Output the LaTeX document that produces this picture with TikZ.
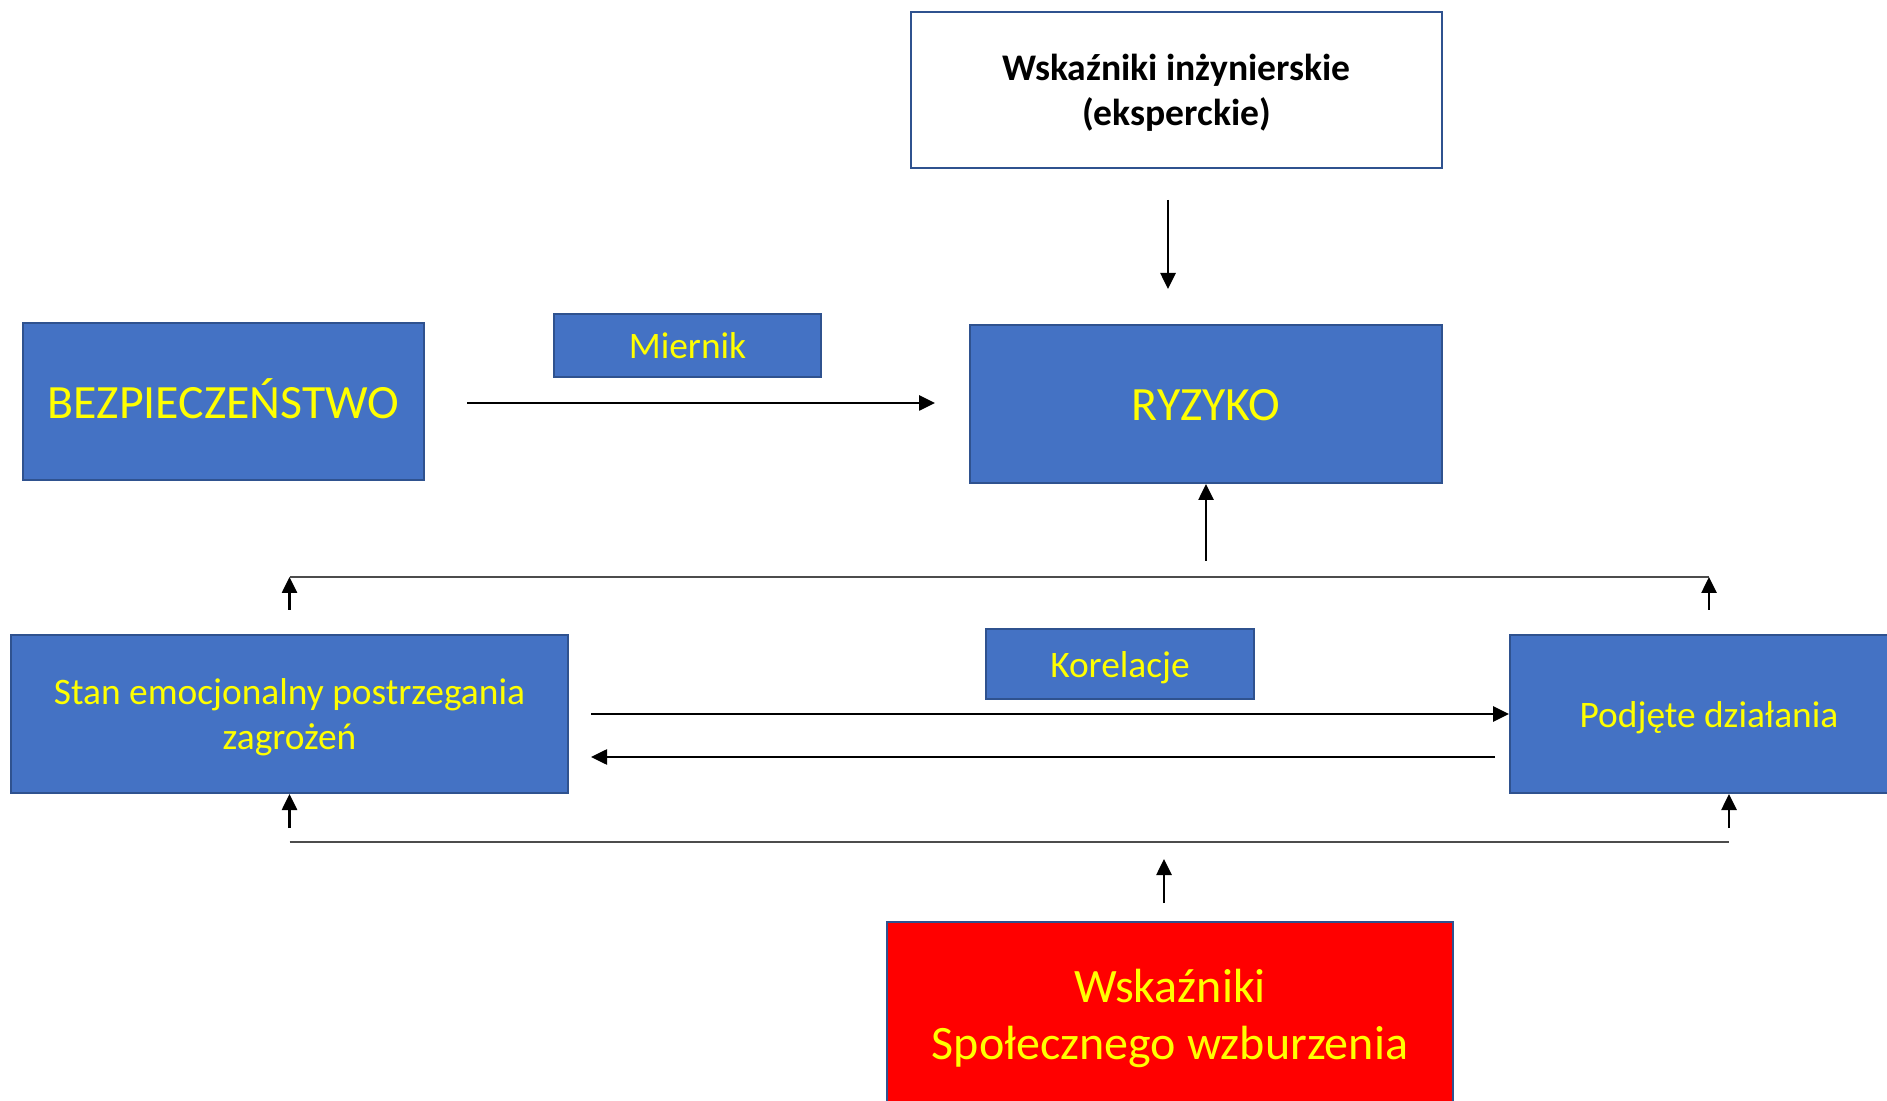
\documentclass[tikz,border=0pt]{standalone}
\usepackage{fontspec}
\setmainfont{Carlito}
\usetikzlibrary{arrows.meta}

\definecolor{boxblue}{HTML}{4472C4}
\definecolor{boxedge}{HTML}{2F528F}
\definecolor{txtyellow}{HTML}{FFFF00}
\definecolor{alarmred}{HTML}{FF0000}

\tikzset{
  blockbox/.style={draw=boxedge, line width=1pt, fill=boxblue, text=txtyellow,
    align=center, inner sep=0pt, anchor=center},
  % one-line and two-line text, set so the letters sit centred in the box
  midtext/.style={font=\fontsize{18.7}{22.2}\selectfont, text height=13.1pt, text depth=0pt},
  midtexttwo/.style={font=\fontsize{18.7}{22.2}\selectfont, text height=35.3pt, text depth=0pt},
  bigtext/.style={font=\fontsize{23.9}{28.5}\selectfont, text height=16.7pt, text depth=0pt},
  bigtexttwo/.style={font=\fontsize{24}{28.5}\selectfont, text height=45.3pt, text depth=0pt},
  arr/.style={line width=1.3pt, -{Triangle[length=8pt,width=7.5pt]}},
  bus/.style={line width=0.8pt, draw=black!70},
}

\begin{document}
\begin{tikzpicture}[x=0.5pt, y=-0.5pt]
  \useasboundingbox (0,0) rectangle (1887,1101);
  \clip (0,0) rectangle (1887,1101);
  \fill[white] (0,0) rectangle (1887,1101);

  % boxes
  \node[blockbox, fill=white, text=black, midtexttwo,
        font=\fontsize{18.8}{22.2}\selectfont\bfseries,
        minimum width=265.5pt, minimum height=78pt] (top) at (1176.5,90)
        {Wskaźniki inżynierskie\\(eksperckie)};
  \node[blockbox, bigtext, minimum width=200.5pt, minimum height=78.5pt] (bez) at (223.5,401.5)
        {BEZPIECZEŃSTWO};
  \node[blockbox, midtext, minimum width=133.5pt, minimum height=31.5pt] (mier) at (687.5,345.5)
        {Miernik};
  \node[blockbox, bigtext, minimum width=236pt, minimum height=79pt] (ryz) at (1206,404)
        {RYZYKO};
  \node[blockbox, midtexttwo, minimum width=278.5pt, minimum height=79pt] (stan) at (289.5,714)
        {Stan emocjonalny postrzegania\\zagrożeń};
  \node[blockbox, midtext, minimum width=134pt, minimum height=35pt] (kor) at (1120,664)
        {Korelacje};
  \node[blockbox, midtext, minimum width=199pt, minimum height=79pt] (pod) at (1709,714)
        {Podjęte działania};
  \node[blockbox, fill=alarmred, bigtexttwo,
        minimum width=283pt, minimum height=92pt] (red) at (1170,1014)
        {Wskaźniki\\Społecznego wzburzenia};

  % engineering indicators -> risk
  \coordinate (t1) at ([xshift=-4.25pt, yshift=-15.5pt]top.south);
  \draw[arr, shorten >=17.5pt] (t1) -- (t1 |- ryz.north);

  % safety -> risk
  \draw[arr, shorten <=21pt, shorten >=17pt] ([yshift=-0.75pt]bez.east)
        -- ([yshift=-0.75pt]bez.east -| ryz.west);

  % upper bus
  \coordinate (busTL) at ([yshift=28.5pt]stan.north);
  \coordinate (busTR) at (busTL -| pod.north);
  \draw[bus] (busTL) -- (busTR);
  \draw[arr, shorten <=12pt] (stan.north) -- (busTL);
  \draw[arr, shorten <=12pt] (pod.north) -- (busTR);
  \draw[arr, shorten <=8pt] (busTL -| ryz.south) -- (ryz.south);

  % correlations between the two middle boxes
  \draw[arr, shorten <=11pt] (stan.east) -- (stan.east -| pod.west);
  \draw[arr, shorten <=7pt, shorten >=11pt] ([yshift=-21.5pt]pod.west)
        -- ([yshift=-21.5pt]pod.west -| stan.east);

  % lower bus
  \coordinate (busBL) at ([yshift=-24pt]stan.south);
  \coordinate (busBR) at ([xshift=10pt]pod.south |- busBL);
  \draw[bus] (busBL) -- (busBR);
  \draw[arr, shorten <=7pt] (busBL) -- (stan.south);
  \draw[arr, shorten <=7pt] (busBR) -- (busBR |- pod.south);
  \draw[arr, shorten <=9pt, shorten >=8.5pt] ([xshift=-3pt]red.north)
        -- ([xshift=-3pt]red.north |- busBL);
\end{tikzpicture}
\end{document}
